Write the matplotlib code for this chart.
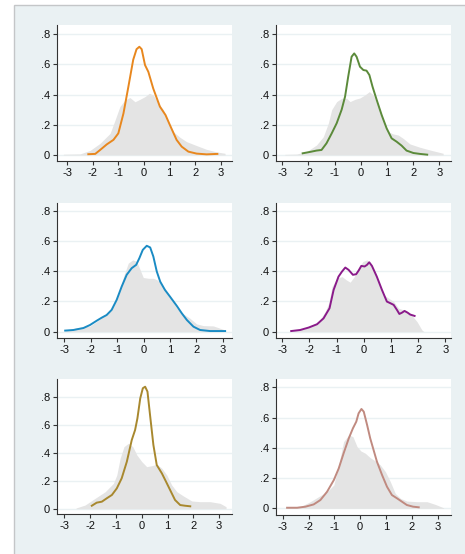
"""
Six kernel density panels: each coloured density over a shared-style grey area.
"""

import matplotlib.pyplot as plt
from matplotlib.patches import Rectangle

plt.rcParams["font.family"] = ["Liberation Sans", "DejaVu Sans"]
plt.rcParams["axes.unicode_minus"] = False

# ---- data ----
# panel 1 (top left)
gray1_x = [-3.14, -2.49, -2.1, -1.71, -1.32, -1.13, -0.94, -0.74, -0.55, -0.35, -0.16, 0.04,
           0.21, 0.36, 0.56, 0.75, 0.95, 1.14, 1.4, 1.66, 2.05, 2.44, 2.83, 3.16]
gray1_y = [0.005, 0.007, 0.03, 0.077, 0.143, 0.23, 0.32, 0.364, 0.38, 0.352, 0.368, 0.386,
           0.408, 0.397, 0.342, 0.3, 0.22, 0.154, 0.117, 0.088, 0.062, 0.037, 0.02, 0.011]
orange_x = [-2.17, -1.9, -1.71, -1.45, -1.19, -1.0, -0.8, -0.61, -0.42, -0.29, -0.18, -0.09,
            0.04, 0.17, 0.36, 0.62, 0.84, 1.01, 1.27, 1.47, 1.73, 2.05, 2.44, 2.86]
orange_y = [0.005, 0.007, 0.033, 0.07, 0.1, 0.143, 0.275, 0.45, 0.63, 0.70, 0.716, 0.70,
            0.595, 0.55, 0.44, 0.32, 0.264, 0.198, 0.1, 0.055, 0.022, 0.009, 0.004, 0.007]

# panel 2 (top right)
gray2_x = [-2.9, -2.45, -2.07, -1.69, -1.43, -1.24, -1.11, -0.92, -0.73, -0.54, -0.41, -0.22,
           -0.03, 0.16, 0.33, 0.48, 0.67, 0.86, 1.05, 1.24, 1.43, 1.62, 1.88, 2.26, 2.64, 3.15]
gray2_y = [0.004, 0.006, 0.022, 0.066, 0.121, 0.21, 0.3, 0.353, 0.375, 0.375, 0.353, 0.368,
           0.377, 0.397, 0.419, 0.397, 0.32, 0.231, 0.154, 0.139, 0.132, 0.11, 0.073, 0.051,
           0.033, 0.011]
green_x = [-2.22, -1.94, -1.69, -1.5, -1.31, -1.11, -0.92, -0.73, -0.6, -0.48, -0.35, -0.25,
           -0.16, -0.03, 0.1, 0.22, 0.33, 0.45, 0.61, 0.8, 0.99, 1.18, 1.37, 1.56, 1.75, 2.01,
           2.26, 2.54]
green_y = [0.011, 0.02, 0.029, 0.033, 0.077, 0.143, 0.21, 0.3, 0.386, 0.518, 0.65, 0.672,
           0.65, 0.584, 0.562, 0.558, 0.529, 0.452, 0.364, 0.264, 0.176, 0.11, 0.088, 0.062,
           0.029, 0.013, 0.007, 0.002]

# panel 3 (middle left)
gray3_x = [-2.97, -2.53, -2.03, -1.65, -1.4, -1.14, -0.95, -0.76, -0.58, -0.41, -0.26, -0.13,
           -0.01, 0.18, 0.37, 0.52, 0.69, 0.88, 1.07, 1.26, 1.51, 1.76, 2.01, 2.27, 2.64, 3.02]
gray3_y = [0.004, 0.026, 0.037, 0.082, 0.121, 0.166, 0.243, 0.364, 0.453, 0.475, 0.464, 0.409,
           0.358, 0.353, 0.353, 0.342, 0.309, 0.265, 0.21, 0.155, 0.117, 0.088, 0.051, 0.04,
           0.038, 0.015]
blue_x = [-2.97, -2.66, -2.28, -2.03, -1.77, -1.58, -1.4, -1.21, -1.02, -0.83, -0.64, -0.45,
          -0.28, -0.16, -0.03, 0.12, 0.25, 0.37, 0.5, 0.63, 0.81, 1.0, 1.26, 1.45, 1.64, 1.89,
          2.14, 2.52, 3.09]
blue_y = [0.007, 0.011, 0.024, 0.044, 0.073, 0.093, 0.11, 0.144, 0.21, 0.298, 0.376, 0.42,
          0.442, 0.486, 0.541, 0.568, 0.557, 0.497, 0.398, 0.331, 0.276, 0.232, 0.17, 0.121,
          0.077, 0.033, 0.011, 0.004, 0.004]

# panel 4 (middle right)
gray4_x = [-2.67, -2.09, -1.66, -1.42, -1.29, -1.17, -0.99, -0.8, -0.64, -0.5, -0.35, -0.19,
           -0.03, 0.12, 0.24, 0.39, 0.55, 0.73, 0.92, 1.1, 1.28, 1.47, 1.71, 1.96, 2.14, 2.2]
gray4_y = [0.002, 0.022, 0.066, 0.133, 0.188, 0.298, 0.353, 0.364, 0.342, 0.327, 0.364, 0.42,
           0.464, 0.475, 0.442, 0.387, 0.32, 0.243, 0.221, 0.199, 0.155, 0.144, 0.121, 0.066,
           0.011, 0.002]
purple_x = [-2.67, -2.34, -2.03, -1.72, -1.48, -1.26, -1.11, -0.93, -0.8, -0.68, -0.56, -0.4,
            -0.28, -0.19, -0.09, 0.03, 0.12, 0.2, 0.3, 0.48, 0.67, 0.85, 0.98, 1.1, 1.22, 1.31,
            1.41, 1.5, 1.61, 1.71, 1.87]
purple_y = [0.004, 0.011, 0.027, 0.049, 0.088, 0.155, 0.276, 0.364, 0.398, 0.424, 0.409, 0.376,
            0.38, 0.404, 0.435, 0.431, 0.442, 0.459, 0.435, 0.364, 0.276, 0.199, 0.188, 0.177,
            0.144, 0.117, 0.126, 0.137, 0.126, 0.113, 0.104]

# panel 5 (bottom left)
gray5_x = [-2.55, -2.2, -1.81, -1.42, -1.1, -0.97, -0.84, -0.69, -0.52, -0.35, -0.19, 0.0,
           0.19, 0.39, 0.58, 0.78, 0.97, 1.16, 1.36, 1.62, 1.94, 2.26, 2.65, 3.04, 3.27]
gray5_y = [0.005, 0.026, 0.074, 0.121, 0.181, 0.24, 0.36, 0.443, 0.467, 0.443, 0.383, 0.336,
           0.3, 0.307, 0.317, 0.288, 0.24, 0.169, 0.121, 0.09, 0.055, 0.05, 0.05, 0.038, 0.014]
olive_x = [-1.94, -1.75, -1.55, -1.36, -1.16, -0.97, -0.78, -0.58, -0.39, -0.26, -0.17, -0.06,
           0.04, 0.13, 0.22, 0.32, 0.45, 0.58, 0.78, 0.94, 1.1, 1.29, 1.49, 1.68, 1.88]
olive_y = [0.021, 0.043, 0.05, 0.074, 0.098, 0.145, 0.217, 0.336, 0.49, 0.562, 0.645, 0.788,
           0.86, 0.871, 0.836, 0.669, 0.455, 0.312, 0.252, 0.193, 0.133, 0.062, 0.026, 0.021,
           0.017]

# panel 6 (bottom right)
gray6_x = [-2.9, -2.32, -1.93, -1.61, -1.28, -1.02, -0.83, -0.64, -0.44, -0.28, -0.12, 0.03,
           0.2, 0.39, 0.59, 0.78, 0.98, 1.17, 1.36, 1.56, 1.81, 2.2, 2.59, 2.91, 3.23]
gray6_y = [0.004, 0.011, 0.044, 0.077, 0.11, 0.154, 0.287, 0.441, 0.485, 0.474, 0.408, 0.379,
           0.364, 0.335, 0.313, 0.287, 0.242, 0.176, 0.099, 0.066, 0.048, 0.044, 0.044, 0.026,
           0.004]
rose_x = [-2.83, -2.44, -2.12, -1.8, -1.54, -1.28, -1.02, -0.83, -0.64, -0.44, -0.28, -0.15,
          -0.06, 0.05, 0.14, 0.27, 0.39, 0.52, 0.65, 0.85, 1.04, 1.23, 1.43, 1.62, 1.81, 2.05,
          2.27]
rose_y = [0.004, 0.004, 0.011, 0.026, 0.055, 0.11, 0.187, 0.264, 0.364, 0.463, 0.529, 0.573,
          0.628, 0.657, 0.639, 0.551, 0.463, 0.386, 0.309, 0.22, 0.143, 0.088, 0.066, 0.044,
          0.022, 0.011, 0.007]

y_ticks = [0, 0.2, 0.4, 0.6, 0.8]
y_labels = ["0", ".2", ".4", ".6", ".8"]
x_ticks = [-3, -2, -1, 0, 1, 2, 3]
x_labels = ["-3", "-2", "-1", "0", "1", "2", "3"]

W, H = 465, 554
BG = "#eaf1f3"


def main():
    fig = plt.figure(figsize=(W / 100, H / 100), dpi=100)
    fig.patch.set_facecolor("white")
    fig.add_artist(Rectangle((14 / W, -0.01), 1.0, (H - 5) / H + 0.01,
                             transform=fig.transFigure, facecolor=BG,
                             edgecolor="#c4c6c8", lw=1.0, zorder=0))

    # (pixel box left, top, right, bottom), xlim, ylim, grey, line, colour
    panels = [
        ((57, 25, 232, 161), (-3.39, 3.43), (-0.04, 0.86), gray1_x, gray1_y, orange_x, orange_y, "#e8871e"),
        ((276, 25, 451, 161), (-3.24, 3.45), (-0.04, 0.86), gray2_x, gray2_y, green_x, green_y, "#5b8a3a"),
        ((57, 203, 232, 338), (-3.28, 3.35), (-0.042, 0.851), gray3_x, gray3_y, blue_x, blue_y, "#1a8bc4"),
        ((276, 203, 451, 338), (-3.23, 3.21), (-0.042, 0.851), gray4_x, gray4_y, purple_x, purple_y, "#8a1a8a"),
        ((57, 379, 232, 514), (-3.29, 3.50), (-0.038, 0.926), gray5_x, gray5_y, olive_x, olive_y, "#a8882e"),
        ((276, 379, 451, 515), (-3.26, 3.52), (-0.044, 0.855), gray6_x, gray6_y, rose_x, rose_y, "#c08a80"),
    ]

    for box, xlim, ylim, gx, gy, lx, ly, col in panels:
        l, t, r, b = box
        ax = fig.add_axes([l / W, 1 - b / H, (r - l) / W, (b - t) / H])
        ax.set_facecolor("white")
        ax.fill_between(gx, 0, gy, color="#e4e4e4", lw=0, zorder=2)
        ax.plot(lx, ly, color=col, lw=1.4, solid_joinstyle="round", zorder=3)
        ax.set_xlim(*xlim)
        ax.set_ylim(*ylim)
        ax.set_yticks(y_ticks, y_labels)
        ax.set_xticks(x_ticks, x_labels)
        ax.grid(axis="y", color=BG, lw=1.0, zorder=1)
        ax.set_axisbelow(True)
        for side in ("top", "right"):
            ax.spines[side].set_visible(False)
        for side in ("left", "bottom"):
            ax.spines[side].set_color("#333333")
            ax.spines[side].set_linewidth(0.8)
        ax.tick_params(direction="out", length=3, width=0.8, color="#333333",
                       labelsize=8, pad=2, labelcolor="#111111")

    fig.savefig("out.png", dpi=100, facecolor=fig.get_facecolor())


if __name__ == "__main__":
    main()
